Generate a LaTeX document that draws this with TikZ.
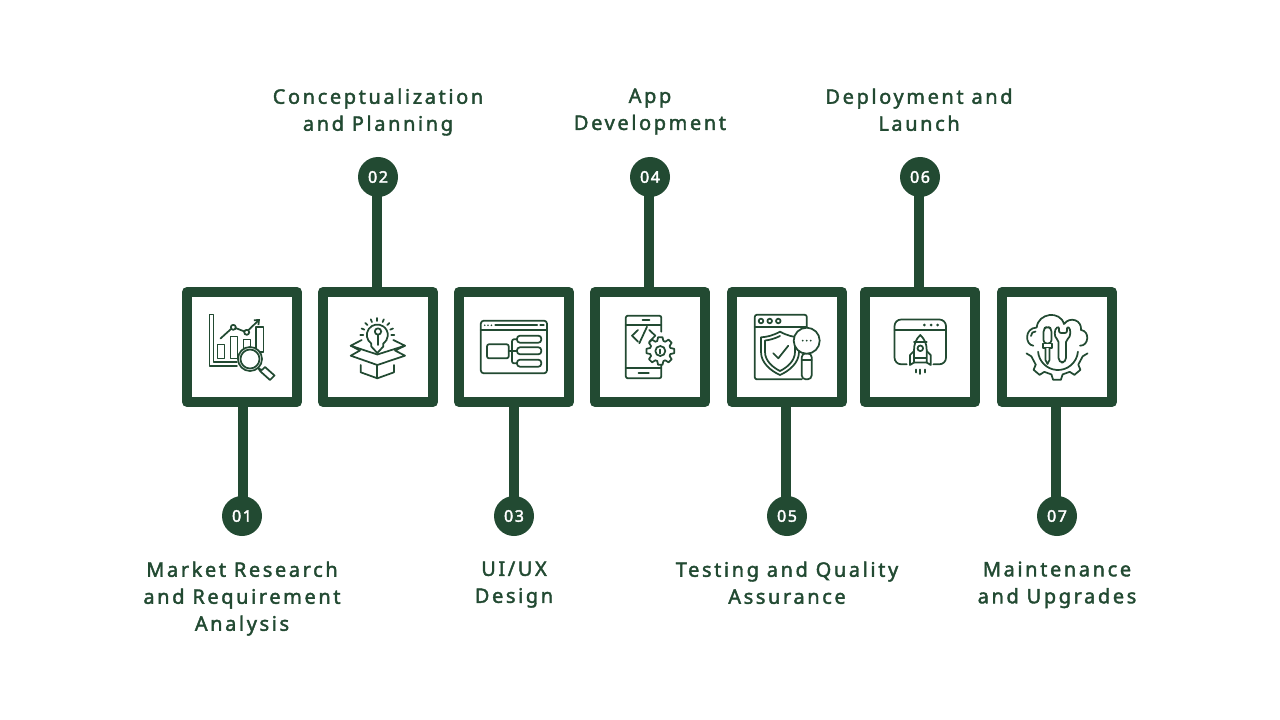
\documentclass[tikz,border=0pt]{standalone}
\usepackage{fontspec}
\setmainfont{Noto Sans}
\newfontfamily\labelfont[LetterSpace=13,FakeBold=2]{Noto Sans}
\newfontfamily\numfont[LetterSpace=10,FakeBold=2.4]{Noto Sans}
\usetikzlibrary{positioning,arrows.meta}
\definecolor{leaf}{HTML}{224A32}

\begin{document}
\begin{tikzpicture}[x=0.75pt,y=-0.75pt,
	every node/.style={inner sep=0pt},
	stagebox/.style={draw=leaf,fill=white,line width=7.5pt,line join=round,minimum size=82.5pt},
	numdot/.style={circle,fill=leaf,text=white,minimum size=30pt,font=\numfont\fontsize{12}{14}\selectfont},
	caption/.style={align=center,text=leaf,font=\labelfont\fontsize{15}{20.25}\selectfont,execute at begin node=\strut},
	stem/.style={draw=leaf,line width=7.5pt,shorten >=-2pt},
	icon/.style={draw=leaf,line width=1.3pt,line join=round,line cap=round},
	thick icon/.style={icon,line width=1.6pt}]
	\useasboundingbox (0,0) rectangle (1280,720);
	% Boxes and number dots
	\foreach \n/\x/\y in {1/242/516,2/378/177,3/514/516,4/650/177,5/787/516,6/920/177,7/1057/516}{
		\node[stagebox] (box\n) at (\x,347) {};
		\node[numdot] (num\n) at (\x,\y) {\raisebox{-0.75pt}{0\n}};
	}
	% Stems
	\foreach \n/\s/\a/\b in {1/243/south/north,2/377/north/south,3/514/south/north,4/649/north/south,5/786/south/north,6/919/north/south,7/1056/south/north}{
		\coordinate (foot\n) at (\s,347);
		\draw[stem] (foot\n |- box\n.\a) -- (foot\n |- num\n.\b);
	}
	% Captions
	\node[caption,anchor=north] (lab1) at (242,561.3) {Market Research\\and Requirement\\Analysis};
	\node[caption,anchor=north] (lab2) at (378,88.3) {Conceptualization\\and Planning};
	\node[caption,anchor=north] (lab3) at (514,561.3) {UI/UX\\Design};
	\node[caption,anchor=north] (lab4) at (650,88.3) {App\\Development};
	\node[caption,anchor=north] (lab5) at (787,561.3) {Testing and Quality\\Assurance};
	\node[caption,anchor=north] (lab6) at (919,88.3) {Deployment and\\Launch};
	\node[caption,anchor=north] (lab7) at (1057,561.3) {Maintenance\\and Upgrades};

	% Icon 1, chart and magnifier
	\draw[icon] (237,366) -- (209.5,366) -- (209.5,314.5) -- (213.5,314.5) -- (213.5,362) -- (237,362);
	\draw[icon] (217.5,344.5) rectangle (224.5,358.5);
	\draw[icon] (230.5,336.5) rectangle (237.5,358.5);
	\draw[icon] (243.5,339.5) rectangle (250.5,350);
	\draw[icon] (256,327) rectangle (263.5,352);
	\draw[icon] (220.5,338.5) -- (231,329);
	\draw[icon] (235.5,328) -- (244.5,331.5);
	\draw[icon,-{Straight Barb[length=3pt,width=5pt]}] (248.5,330) -- (260,319);
	\draw[icon] (233.3,327.3) circle[radius=2.5];
	\draw[icon] (246.7,332.3) circle[radius=2.5];
	\draw[icon,fill=white] (250,359) circle[radius=12];
	\draw[icon] (250,359) circle[radius=9.5];
	\draw[icon,fill=white] (258.5,368.5) -- (262,370) -- (265,367) -- (274.5,375.5) -- (270,380) -- (260.5,371.5) -- cycle;

	% Icon 2, bulb in open box
	\draw[icon] (371.3,343.6) arc[start angle=125,end angle=415,radius=10.5];
	\draw[icon] (371.3,343.6) -- (371.3,346.5) -- (377.3,353) -- (383.3,346.5) -- (383.3,343.6);
	\draw[icon] (378,331.5) circle[radius=3.2];
	\draw[icon] (378,334.7) -- (378,345);
	\foreach \a in {180,202.5,...,360}{
		\draw[icon] ([shift={(377.3,335)}]\a:14) -- ([shift={(377.3,335)}]\a:17);
	}
	\draw[icon] (361.7,340) -- (350.7,345.7) -- (377.3,354.5) -- (405,345.7) -- (393.3,340);
	\draw[icon] (350.7,345.7) -- (360,350.5) -- (350.7,355.7) -- (377.3,365) -- (405,355.7) -- (395,350.5) -- (405,345.7);
	\draw[icon] (360.7,365) -- (360.7,372.3) -- (377.3,378.3) -- (394,372.3) -- (394,365);
	\draw[icon] (377.3,365) -- (377.3,378.3);

	% Icon 3, window with tree
	\draw[icon,rounded corners=2.2pt] (480.8,320.7) rectangle (547,373.3);
	\draw[icon] (480.8,330) -- (547,330);
	\foreach \x in {484.7,488,491.4}{
		\fill[leaf] (\x,325.3) circle[radius=0.9];
	}
	\draw[thick icon] (495.3,325.3) -- (537,325.3);
	\draw[thick icon] (540.3,325.3) -- (543.7,325.3);
	\draw[icon,rounded corners=1.5pt] (487,344.3) rectangle (508.7,358.3);
	\foreach \y in {335.7,347.3,359.7}{
		\draw[icon,rounded corners=2.2pt] (517,\y) rectangle (541.3,\y+7);
	}
	\draw[icon] (508.7,351) -- (517,351);
	\draw[icon,rounded corners=1.5pt] (517,339.3) -- (512,339.3) -- (512,363.3) -- (517,363.3);

	% Icon 4, phone with gear
	\draw[icon,rounded corners=1.5pt] (661.3,331.7) -- (661.3,315.7) -- (625.8,315.7) -- (625.8,378.3) -- (661.3,378.3) -- (661.3,363.3);
	\draw[icon] (625.8,325) -- (661.3,325);
	\draw[icon] (625.8,368.3) -- (661.3,368.3);
	\draw[thick icon] (642.7,319.6) -- (649.3,319.6);
	\draw[thick icon] (638.7,373.3) -- (648.7,373.3);
	\draw[icon] (638,330) -- (632,335.7) -- (638,341.7);
	\draw[icon] (647,326.7) -- (639.3,343.3);
	\draw[icon] (649.3,330) -- (655.3,335.7) -- (649.3,341.7);
	\draw[icon,fill=white,shift={(660.3,351)}] (-17:10.5) \foreach \a in {0,45,...,315}{ -- ({\a-17}:10.5) -- ({\a-9}:14) -- ({\a+9}:14) -- ({\a+17}:10.5)} -- cycle;
	\draw[icon] (660.3,351) circle[radius=5];
	\draw[icon] (660.3,349.5) -- (660.3,353.5);

	% Icon 5, window with shield and magnifier
	\draw[icon,rounded corners=1.5pt] (801.7,379.3) -- (754.8,379.3) -- (754.8,314.8) -- (806.7,314.8) -- (806.7,327);
	\draw[icon] (754.8,326.7) -- (806.7,326.7);
	\foreach \x in {761,769.7,778.3}{
		\draw[icon] (\x,321) circle[radius=2.3];
	}
	\draw[icon,fill=white] (780,331.7) .. controls (773,335.5) and (767,337) .. (761,337.3) -- (761,352) .. controls (761,363) and (771,371) .. (780,375) .. controls (789,371) and (799,363) .. (799,352) -- (799,337.3) .. controls (793,337) and (787,335.5) .. (780,331.7) -- cycle;
	\draw[icon] (780,336) .. controls (775,338.5) and (770,340) .. (765,340.5) -- (765,352) .. controls (765,361) and (773,367.5) .. (780,371) .. controls (787,367.5) and (795,361) .. (795,352) -- (795,340.5);
	\draw[icon] (773.3,353.3) -- (778.3,358.3) -- (788.3,345.7);
	\draw[icon,fill=white,rounded corners=3pt] (801.7,353.3) rectangle (811.7,379.3);
	\draw[icon] (801.7,360) -- (811.7,360);
	\draw[icon,fill=white] (806.7,340.7) circle[radius=13];
	\foreach \x in {802.7,806.7,810.7}{
		\fill[leaf] (\x,340.7) circle[radius=1];
	}

	% Icon 6, window with rocket
	\draw[icon,rounded corners=5pt] (906.7,364.3) -- (894.5,364.3) -- (894.5,319.5) -- (946,319.5) -- (946,364.3) -- (933.3,364.3);
	\draw[icon] (894.5,330) -- (946,330);
	\foreach \x in {924.3,931,937.7}{
		\fill[leaf] (\x,325) circle[radius=1.5];
	}
	\draw[icon,fill=white] (920.3,335) .. controls (916,339) and (914,344) .. (914,350) -- (914,362.5) -- (926.7,362.5) -- (926.7,350) .. controls (926.7,344) and (924.5,339) .. (920.3,335) -- cycle;
	\draw[icon] (914,342) -- (926.7,342);
	\draw[icon] (915,358) -- (925.7,358);
	\draw[icon] (920.3,348.3) circle[radius=2.8];
	\draw[icon] (914,351) -- (910,355) -- (910,365) -- (914,362.5);
	\draw[icon] (926.7,351) -- (930.7,355) -- (930.7,365) -- (926.7,362.5);
	\foreach \x/\l in {915.7/372.5,920.3/374,925/372.5}{
		\draw[icon] (\x,369.5) -- (\x,\l);
	}

	% Icon 7, cloud, tools and gear
	\draw[icon] (1033.3,345.7) .. controls (1025,345) and (1024,328) .. (1036.7,327.5) .. controls (1038,313) and (1060,310) .. (1064,324) .. controls (1070,316) and (1082,320) .. (1081,330) .. controls (1090,331) and (1089,346) .. (1080,345.7);
	\draw[icon] (1031,336) .. controls (1031,333) and (1033,331.5) .. (1035.5,331.5);
	\draw[icon,shift={(1057,348)}] (10:31) -- (18:27) \foreach \a in {50,90,130}{ -- ({\a-12}:27) -- ({\a-7}:32) -- ({\a+7}:32) -- ({\a+12}:27)} -- (162:27) -- (170:31);
	\draw[icon,shift={(1058,350)}] (5:20) arc[start angle=5,end angle=175,radius=20];
	\draw[icon,fill=white,rounded corners=2.5pt] (1043.5,343.5) -- (1043.5,328.5) -- (1047.5,326.5) -- (1051.5,328.5) -- (1051.5,343.5) -- cycle;
	\draw[icon,fill=white] (1043,343.5) rectangle (1052,348);
	\draw[icon,fill=white] (1045.5,348) -- (1045.5,360) -- (1047.5,364) -- (1049.5,360) -- (1049.5,348);
	\draw[icon,fill=white,rounded corners=1.5pt] (1059,326.5) .. controls (1054,329) and (1054,337) .. (1058.5,340) -- (1058.5,360) -- (1061,362.5) -- (1063.5,362.5) -- (1066,360) -- (1066,340) .. controls (1071,337) and (1071,329) .. (1067,326.5) -- (1067,333) -- (1059,333) -- cycle;
\end{tikzpicture}
\end{document}
